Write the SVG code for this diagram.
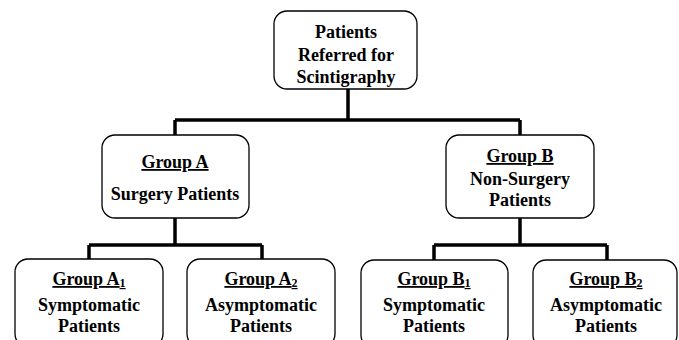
<svg xmlns="http://www.w3.org/2000/svg" width="679" height="340" viewBox="0 0 679 340">
<style>
.box{fill:#fff;stroke:#000;stroke-width:1.3}
.t{font-family:"Liberation Serif","Times New Roman",serif;font-weight:bold;font-size:18px;text-anchor:middle;fill:#000}
.u{text-decoration:underline}
.sub{font-size:12px}
.conn{fill:none;stroke:#000;stroke-width:3.5;stroke-linejoin:miter}
</style>
<rect width="679" height="340" fill="#fff"/>
<g id="connectors">
<path class="conn" d="M348 89V120M175 120H520M175 120V135M520 120V135"/>
<path class="conn" d="M175 218V245M89 245H262M89 245V259M262 245V259"/>
<path class="conn" d="M520 218V245M434 245H607M434 245V260M607 245V260"/>
</g>
<g id="root">
<rect class="box" x="274" y="11" width="143" height="78" rx="13"/>
<text class="t" x="346" y="38">Patients</text>
<text class="t" x="346" y="61">Referred for</text>
<text class="t" x="346" y="83">Scintigraphy</text>
</g>
<g id="groupA">
<rect class="box" x="102" y="135" width="147" height="83" rx="13"/>
<text class="t u" x="175" y="168">Group A</text>
<text class="t" x="175" y="200">Surgery Patients</text>
</g>
<g id="groupB">
<rect class="box" x="446" y="135" width="148" height="83" rx="13"/>
<text class="t u" x="520" y="162">Group B</text>
<text class="t" x="520" y="185">Non-Surgery</text>
<text class="t" x="520" y="206">Patients</text>
</g>
<g id="groupA1">
<rect class="box" x="15" y="259" width="148" height="88" rx="13"/>
<text class="t u" x="89" y="285">Group A<tspan class="sub" dy="2">1</tspan></text>
<text class="t" x="89" y="311">Symptomatic</text>
<text class="t" x="89" y="332">Patients</text>
</g>
<g id="groupA2">
<rect class="box" x="187" y="259" width="148" height="88" rx="13"/>
<text class="t u" x="261" y="285">Group A<tspan class="sub" dy="2">2</tspan></text>
<text class="t" x="261" y="311">Asymptomatic</text>
<text class="t" x="261" y="332">Patients</text>
</g>
<g id="groupB1">
<rect class="box" x="361" y="260" width="147" height="88" rx="13"/>
<text class="t u" x="434" y="285">Group B<tspan class="sub" dy="2">1</tspan></text>
<text class="t" x="434" y="311">Symptomatic</text>
<text class="t" x="434" y="332">Patients</text>
</g>
<g id="groupB2">
<rect class="box" x="533" y="260" width="144" height="88" rx="13"/>
<text class="t u" x="606" y="285">Group B<tspan class="sub" dy="2">2</tspan></text>
<text class="t" x="606" y="311">Asymptomatic</text>
<text class="t" x="606" y="332">Patients</text>
</g>
</svg>
